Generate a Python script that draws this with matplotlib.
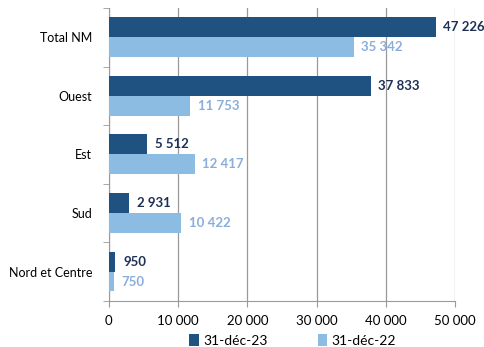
import matplotlib.pyplot as plt
import numpy as np

plt.rcParams['font.family'] = ['Lato', 'DejaVu Sans']

categories = ["Total NM", "Ouest", "Est", "Sud", "Nord et Centre"]
dec23 = [47226, 37833, 5512, 2931, 950]
dec22 = [35342, 11753, 12417, 10422, 750]
labels23 = ["47 226", "37 833", "5 512", "2 931", "950"]
labels22 = ["35 342", "11 753", "12 417", "10 422", "750"]
xticks = [0, 10000, 20000, 30000, 40000, 50000]
xticklabels = ["0", "10 000", "20 000", "30 000", "40 000", "50 000"]

dark = "#1F5280"
light = "#8DBCE3"
grey = "#9A9A9A"

fig = plt.figure(figsize=(4.84, 3.47), dpi=100)
ax = fig.add_axes([0.225, 0.133, 0.715, 0.844])

y = np.arange(len(categories))
h = 0.34
b1 = ax.barh(y - h / 2, dec23, height=h, color=dark, label="31-déc-23", zorder=3)
b2 = ax.barh(y + h / 2, dec22, height=h, color=light, label="31-déc-22", zorder=3)

for rect, txt in zip(b1, labels23):
    ax.text(rect.get_width() + 1100, rect.get_y() + rect.get_height() / 2, txt,
            va="center", ha="left", fontsize=9.5, fontweight="bold", color="#1F3055")
for rect, txt in zip(b2, labels22):
    ax.text(rect.get_width() + 1100, rect.get_y() + rect.get_height() / 2, txt,
            va="center", ha="left", fontsize=9.5, fontweight="bold", color="#8AAEDC")

ax.set_ylim(len(categories) - 0.5, -0.5)
ax.set_xlim(0, 50000)
ax.set_xticks(xticks)
ax.set_xticklabels(xticklabels, fontsize=9.5)
ax.set_yticks(y)
ax.set_yticklabels(categories, fontsize=9)
ax.tick_params(axis="y", length=0, pad=12)
ax.set_yticks(np.arange(len(categories) + 1) - 0.5, minor=True)
ax.tick_params(axis="y", which="minor", length=4, color=grey)
ax.tick_params(axis="x", length=4, color=grey, pad=6)

ax.grid(axis="x", color=grey, linewidth=0.9, zorder=0)
for side in ["top", "right"]:
    ax.spines[side].set_visible(False)
for side in ["left", "bottom"]:
    ax.spines[side].set_color(grey)

fig.legend(handles=[b1, b2], loc="lower center", bbox_to_anchor=(0.605, -0.035),
           ncol=2, frameon=False, fontsize=10, handlelength=0.7, handleheight=0.9,
           handletextpad=0.3, columnspacing=3.6)

fig.savefig("out.png", dpi=100)
